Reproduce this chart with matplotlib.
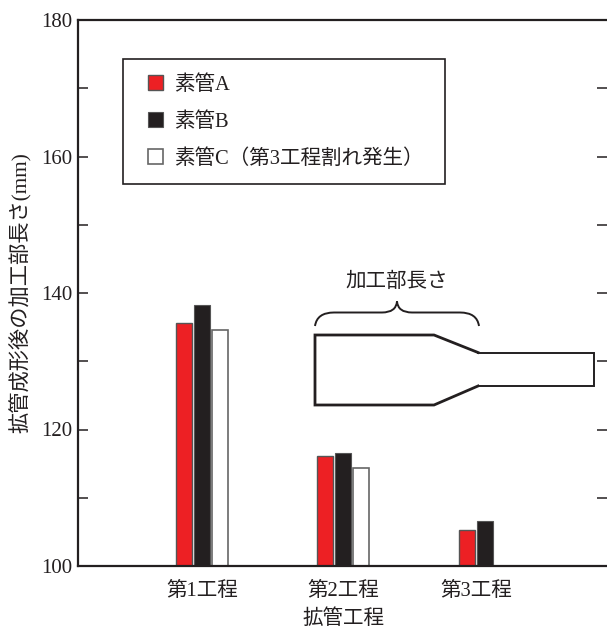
import matplotlib
matplotlib.use("Agg")
import matplotlib.pyplot as plt
from matplotlib.path import Path
from matplotlib.patches import PathPatch, Rectangle

plt.rcParams['font.family'] = ['Liberation Serif', 'Noto Sans CJK JP']

# values
steps = ["第1工程", "第2工程", "第3工程"]
pipe_a = [135.6, 116.1, 105.3]
pipe_b = [138.2, 116.5, 106.6]
pipe_c = [134.6, 114.4]  # no third step, it cracked
labels = ["素管A", "素管B", "素管C（第3工程割れ発生）"]

ink = "#231f20"
red = "#ed2024"

W, H = 607, 630
left, right, top, bottom = 77.5, 607, 20, 566

fig = plt.figure(figsize=(W / 100, H / 100), dpi=100)
ax = fig.add_axes([left / W, 1 - bottom / H, (right - left) / W, (bottom - top) / H])

# x axis runs in pixels so the uneven group spacing is easy to keep
group_x = [202, 343, 476]
bar_w = 15.5
ax.bar([group_x[0] - 18, group_x[1] - 18, group_x[2] - 9], pipe_a, width=bar_w, color=red,
       edgecolor="#555555", linewidth=1, label=labels[0], zorder=2)
ax.bar([group_x[0], group_x[1], group_x[2] + 9], pipe_b, width=bar_w + 1, color=ink,
       edgecolor="#555555", linewidth=0.8, label=labels[1], zorder=2)
ax.bar([group_x[0] + 18, group_x[1] + 18], pipe_c, width=bar_w, color="white",
       edgecolor="#666666", linewidth=1.2, label=labels[2], zorder=2)

ax.set_xlim(left, right)
ax.set_ylim(100, 180)
ax.set_xticks(group_x)
ax.set_xticklabels(steps)
ax.set_yticks([100, 120, 140, 160, 180])
ax.set_yticks([110, 130, 150, 170], minor=True)
ax.tick_params(axis="x", length=0, pad=11.5, labelsize=14.8, colors=ink)
ax.tick_params(axis="y", which="both", direction="in", length=7.5, width=1.1, right=True,
               color=ink, labelcolor=ink, labelsize=15, pad=3.5)

for s in ["left", "top", "bottom"]:
    ax.spines[s].set_linewidth(1.6)
    ax.spines[s].set_color(ink)
ax.spines["right"].set_visible(False)

fig.text(20.5 / W, 1 - 293 / H, "拡管成形後の加工部長さ(mm)", rotation=90, ha="center", va="center",
         fontsize=15.3, color=ink)
fig.text(343 / W, 1 - 619.5 / H, "拡管工程", ha="center", va="center", fontsize=14.8, color=ink)

# frame is drawn apart, the legend's own padding is the same on all sides
leg = ax.legend(loc="upper left", bbox_to_anchor=((148 - left) / (right - left), (bottom - 75) / (bottom - top)),
                borderaxespad=0, borderpad=0, fontsize=14.8, frameon=False,
                handlelength=0.74, handleheight=0.74, handletextpad=0.55, labelspacing=0.84,
                labelcolor=ink)

# tube sketch and brace, drawn in pixel coordinates on a clear overlay
over = fig.add_axes([0, 0, 1, 1])
over.set_xlim(0, W)
over.set_ylim(H, 0)
over.axis("off")
over.patch.set_alpha(0)

over.add_patch(Rectangle((123, 59), 322, 125, fill=False, edgecolor=ink, lw=1.2))

over.plot([478, 434, 315, 315, 434, 478], [352.5, 335, 335, 405, 405, 386], color=ink, lw=2,
          solid_joinstyle="miter")
over.plot([478, 594, 594, 478], [352.5, 352.5, 386, 386], color=ink, lw=1.4, solid_joinstyle="miter")

brace = Path(
    [(315, 326), (317, 312.5), (334, 312.5), (382, 312.5), (396, 312.5), (397, 301.5),
     (398, 312.5), (412, 312.5), (460, 312.5), (477, 312.5), (479, 326)],
    [Path.MOVETO, Path.CURVE3, Path.CURVE3, Path.LINETO, Path.CURVE3, Path.CURVE3,
     Path.CURVE3, Path.CURVE3, Path.LINETO, Path.CURVE3, Path.CURVE3])
over.add_patch(PathPatch(brace, fill=False, edgecolor=ink, lw=1.4))
over.text(397, 282, "加工部長さ", ha="center", va="center", fontsize=14.8, color=ink)

fig.savefig("out.png", dpi=100)
